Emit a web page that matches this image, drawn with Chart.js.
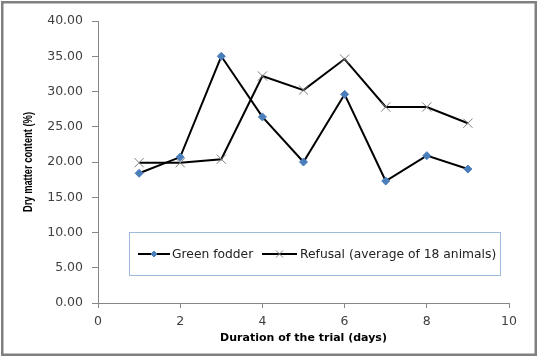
<!DOCTYPE html>
<html>
<head>
<meta charset="utf-8">
<script src="https://cdn.jsdelivr.net/npm/chart.js@4/dist/chart.umd.min.js"></script>
<style>
  html, body { margin: 0; padding: 0; background: #fff; }
  #wrap { width: 538px; height: 358px; position: relative; }
</style>
</head>
<body>
<div id="wrap"><canvas id="c" width="538" height="358"></canvas></div>
<script>
// ---- data ----
const days = [1, 2, 3, 4, 5, 6, 7, 8, 9];
const greenFodder = [18.4, 20.7, 35.0, 26.4, 20.0, 29.6, 17.3, 20.9, 19.0];
const refusal = [19.9, 19.9, 20.4, 32.2, 30.2, 34.6, 27.8, 27.8, 25.5];
const seriesNames = ["Green fodder", "Refusal (average of 18 animals)"];
const xTitle = "Duration of the trial (days)";
const yTitle = "Dry matter content (%)";

const toPts = (xs, ys) => xs.map((x, i) => ({ x: x, y: ys[i] }));

const AXIS = '#868686';
const TICKFONT = { family: 'DejaVu Sans, Verdana, sans-serif', size: 12.5 };

const styles = [
  { pointStyle: 'rectRot', radius: 4, bg: '#4a7ebb', border: '#4a7ebb', bw: 1 },
  { pointStyle: 'crossRot', radius: 6.5, bg: 'rgba(0,0,0,0)', border: '#808080', bw: 1 }
];

const bgBorder = {
  id: 'bgBorder',
  beforeDraw(chart) {
    const ctx = chart.ctx;
    ctx.save();
    ctx.fillStyle = '#fff';
    ctx.fillRect(0, 0, chart.width, chart.height);
    ctx.restore();
  },
  afterDraw(chart) {
    const ctx = chart.ctx;
    ctx.save();
    ctx.strokeStyle = '#808080';
    ctx.lineWidth = 2.5;
    ctx.strokeRect(2.25, 2.25, 533.5, 352.5);
    // y-axis title, condensed along its length
    const ys = chart.scales.y;
    ctx.translate(29, (ys.top + ys.bottom) / 2);
    ctx.rotate(-Math.PI / 2);
    ctx.font = 'bold 12px "Liberation Sans", Arial, sans-serif';
    const w = ctx.measureText(yTitle).width;
    ctx.scale(100 / w, 1);
    ctx.fillStyle = '#000';
    ctx.textAlign = 'center';
    ctx.textBaseline = 'middle';
    ctx.fillText(yTitle, 0, 0);
    ctx.restore();
  }
};

const boxLegend = {
  id: 'boxLegend',
  afterDatasetsDraw(chart) {
    const ctx = chart.ctx;
    const x0 = 129.5, y0 = 232.5, w = 371, h = 43;
    ctx.save();
    ctx.fillStyle = '#fff';
    ctx.fillRect(x0, y0, w, h);
    ctx.strokeStyle = '#9db9dc';
    ctx.lineWidth = 1;
    ctx.strokeRect(x0, y0, w, h);
    const cy = y0 + h / 2;
    const items = [
      { lx1: 138, lx2: 170, tx: 172 },
      { lx1: 262, lx2: 297, tx: 300 }
    ];
    ctx.font = '12.3px "DejaVu Sans", Verdana, sans-serif';
    ctx.textBaseline = 'middle';
    ctx.textAlign = 'left';
    items.forEach((it, i) => {
      ctx.strokeStyle = '#000';
      ctx.lineWidth = 2;
      ctx.beginPath();
      ctx.moveTo(it.lx1, cy);
      ctx.lineTo(it.lx2, cy);
      ctx.stroke();
      const s = styles[i];
      ctx.fillStyle = s.bg;
      ctx.strokeStyle = s.border;
      ctx.lineWidth = s.bw;
      Chart.helpers.drawPoint(ctx, { pointStyle: s.pointStyle, radius: i === 0 ? 3 : 5, borderWidth: s.bw }, (it.lx1 + it.lx2) / 2, cy);
      ctx.fillStyle = '#222';
      ctx.fillText(seriesNames[i], it.tx, cy + 0.5);
    });
    ctx.restore();
  }
};

new Chart(document.getElementById('c'), {
  type: 'scatter',
  data: {
    datasets: [
      {
        label: seriesNames[0],
        data: toPts(days, greenFodder),
        showLine: true,
        borderColor: '#000',
        borderWidth: 2,
        pointStyle: styles[0].pointStyle,
        pointRadius: styles[0].radius,
        pointBackgroundColor: styles[0].bg,
        pointBorderColor: styles[0].border,
        pointBorderWidth: styles[0].bw,
        tension: 0
      },
      {
        label: seriesNames[1],
        data: toPts(days, refusal),
        showLine: true,
        borderColor: '#000',
        borderWidth: 2,
        pointStyle: styles[1].pointStyle,
        pointRadius: styles[1].radius,
        pointBackgroundColor: styles[1].bg,
        pointBorderColor: styles[1].border,
        pointBorderWidth: styles[1].bw,
        tension: 0
      }
    ]
  },
  options: {
    responsive: false,
    animation: false,
    devicePixelRatio: 1,
    layout: { padding: { top: 21, right: 29, left: 0, bottom: 0 } },
    plugins: {
      legend: { display: false },
      tooltip: { enabled: false }
    },
    scales: {
      x: {
        type: 'linear',
        min: 0, max: 10,
        afterFit(scale) { scale.height = 55; },
        ticks: { stepSize: 2, color: '#404040', font: TICKFONT, padding: 6, maxRotation: 0 },
        grid: { display: true, drawOnChartArea: false, drawTicks: true, tickLength: 5, color: AXIS, tickColor: AXIS },
        border: { display: true, color: AXIS, width: 1 },
        title: {
          display: true, text: xTitle, color: '#000',
          font: { family: 'DejaVu Sans, Verdana, sans-serif', size: 11, weight: 'bold' },
          padding: { top: 0, bottom: 13 }
        }
      },
      y: {
        type: 'linear',
        min: 0, max: 40,
        afterFit(scale) { scale.width = 98; },
        ticks: {
          stepSize: 5, color: '#404040', font: TICKFONT, padding: 9,
          callback: (v) => Number(v).toFixed(2)
        },
        grid: { display: true, drawOnChartArea: false, drawTicks: true, tickLength: 6, color: AXIS, tickColor: AXIS },
        border: { display: true, color: AXIS, width: 1 },
        title: { display: false }
      }
    }
  },
  plugins: [bgBorder, boxLegend]
});
</script>
</body>
</html>
